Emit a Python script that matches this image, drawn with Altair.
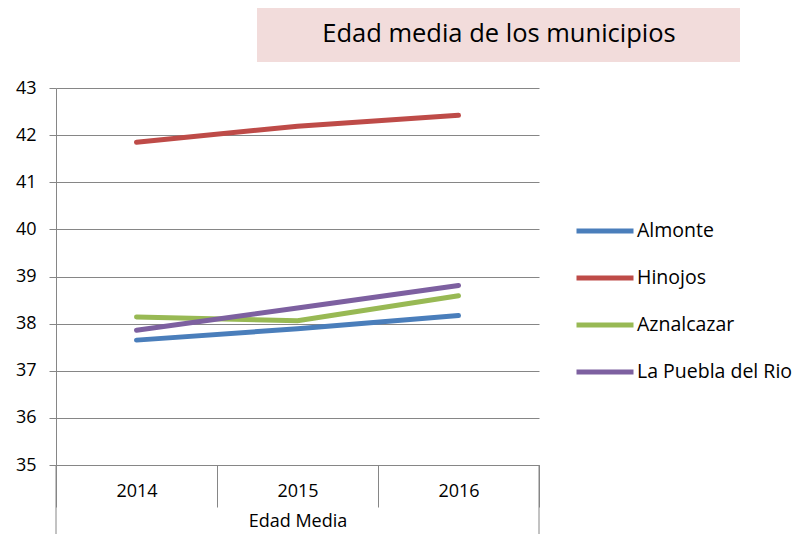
import altair as alt
import pandas as pd

years = ["2014", "2015", "2016"]
series_names = ["Almonte", "Hinojos", "Aznalcazar", "La Puebla del Rio"]
almonte = [37.65, 37.89, 38.17]
hinojos = [41.85, 42.19, 42.42]
aznalcazar = [38.14, 38.06, 38.59]
puebla = [37.86, 38.33, 38.81]
colors = ["#4A7EBB", "#BE4B48", "#98B954", "#7D60A0"]
title_text = "Edad media de los municipios"
x_title = "Edad Media"

rows = []
for name, vals in zip(series_names, [almonte, hinojos, aznalcazar, puebla]):
    for yr, v in zip(years, vals):
        rows.append({"year": yr, "value": v, "series": name})
df = pd.DataFrame(rows)

FONT = "Open Sans"
GRID = "#868686"
W, H = 483, 377
FS = 18
PAD_B = 69

lines = alt.Chart(df).mark_line(strokeWidth=5, strokeCap="round").encode(
    x=alt.X("year:N", sort=years,
            scale=alt.Scale(paddingInner=0, paddingOuter=0),
            axis=alt.Axis(title=x_title, labelAngle=0, tickBand="extent",
                          tickSize=42, tickColor=GRID, domainColor=GRID,
                          labelPadding=-25, labelFontSize=FS, labelFont=FONT,
                          labelColor="#000000", titleFont=FONT, titleFontSize=FS,
                          titleFontWeight="normal", titleColor="#000000",
                          titleY=61, titleBaseline="alphabetic", grid=False)),
    y=alt.Y("value:Q", scale=alt.Scale(domain=[35, 43], nice=False, zero=False),
            axis=alt.Axis(title=None, values=list(range(35, 44)), tickSize=7,
                          tickColor=GRID, domainColor=GRID, gridColor=GRID,
                          labelFontSize=FS, labelFont=FONT, labelColor="#000000",
                          labelPadding=13)),
    color=alt.Color("series:N", sort=series_names,
                    scale=alt.Scale(domain=series_names, range=colors),
                    legend=alt.Legend(title=None, orient="none", legendX=518,
                                      legendY=112, symbolType="stroke",
                                      symbolSize=3249, symbolStrokeWidth=5,
                                      labelFontSize=19.5, labelFont=FONT,
                                      labelColor="#000000", rowPadding=6,
                                      labelOffset=1)),
)

one = pd.DataFrame({"k": [0]})
left_ext = alt.Chart(one).mark_rule(color=GRID, strokeWidth=1).encode(
    x=alt.value(0), y=alt.value(H), y2=alt.value(H + PAD_B))
right_ext = alt.Chart(one).mark_rule(color=GRID, strokeWidth=1).encode(
    x=alt.value(W), y=alt.value(H), y2=alt.value(H + PAD_B))
title_box = alt.Chart(one).mark_rect(color="#F2DCDB").encode(
    x=alt.value(201), x2=alt.value(684), y=alt.value(-82), y2=alt.value(-26))
title_txt = alt.Chart(one).mark_text(font=FONT, fontSize=25.5, color="#000000",
                                     align="center", baseline="middle").encode(
    x=alt.value(443), y=alt.value(-54), text=alt.value(title_text))

chart = alt.layer(title_box, title_txt, left_ext, right_ext, lines).properties(
    width=W, height=H,
    autosize=alt.AutoSizeParams(type="none"),
    padding={"left": 48, "top": 80, "right": 259, "bottom": PAD_B},
).configure_view(stroke=None)

chart.save("out.html", embed_options={"renderer": "svg", "actions": False})
